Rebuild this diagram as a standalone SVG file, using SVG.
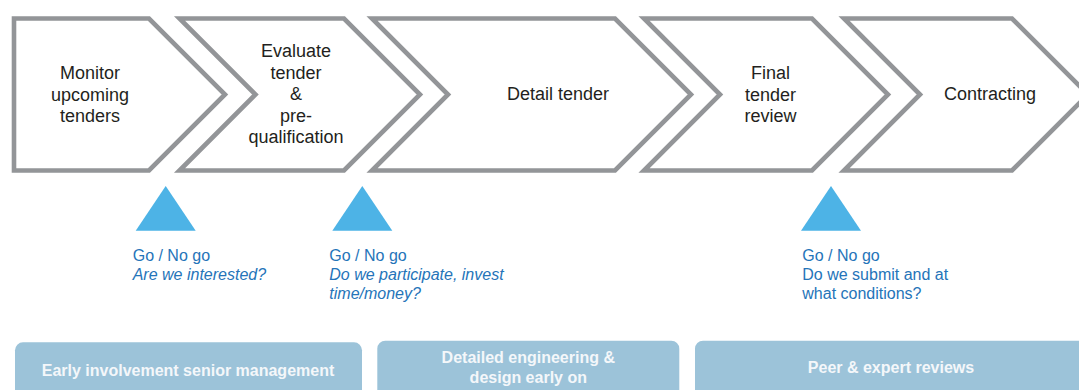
<svg xmlns="http://www.w3.org/2000/svg" width="1079" height="390" viewBox="0 0 1079 390">
<style>
.chev{fill:#ffffff;stroke:#939598;stroke-width:4.6;stroke-linejoin:miter;stroke-miterlimit:10}
.lbl{font-family:"Liberation Sans",Arial,sans-serif;font-size:18px;fill:#231f20;text-anchor:middle}
.tri{fill:#4db3e6}
.gq{font-family:"Liberation Sans",Arial,sans-serif;font-size:16px;fill:#2574b9}
.it{font-style:italic}
.box{fill:#9cc3d9}
.bt{font-family:"Liberation Sans",Arial,sans-serif;font-size:16px;font-weight:bold;fill:#f4f7fa;text-anchor:middle}
</style>
<rect width="1079" height="390" fill="#ffffff"/>
<g id="step1">
<path class="chev" d="M14,18.5 H149 L225,94.5 L149,170.5 H14 Z"/>
<text class="lbl" x="90" y="79">Monitor</text>
<text class="lbl" x="90" y="100.6">upcoming</text>
<text class="lbl" x="90" y="122.2">tenders</text>
</g>
<g id="step2">
<path class="chev" d="M179.5,18.5 H344 L420,94.5 L344,170.5 H179.5 L255.5,94.5 Z"/>
<text class="lbl" x="296" y="57">Evaluate</text>
<text class="lbl" x="296" y="78.6">tender</text>
<text class="lbl" x="296" y="100.2">&amp;</text>
<text class="lbl" x="296" y="121.8">pre-</text>
<text class="lbl" x="296" y="143.4">qualification</text>
</g>
<g id="step3">
<path class="chev" d="M372,18.5 H615 L691,94.5 L615,170.5 H372 L448,94.5 Z"/>
<text class="lbl" x="558" y="100.2">Detail tender</text>
</g>
<g id="step4">
<path class="chev" d="M644,18.5 H812 L888,94.5 L812,170.5 H644 L720,94.5 Z"/>
<text class="lbl" x="770.5" y="79">Final</text>
<text class="lbl" x="770.5" y="100.6">tender</text>
<text class="lbl" x="770.5" y="122.2">review</text>
</g>
<g id="step5">
<path class="chev" d="M844,18.5 H1012 L1088,94.5 L1012,170.5 H844 L920,94.5 Z"/>
<text class="lbl" x="990" y="100.2">Contracting</text>
</g>
<g id="gate1">
<polygon class="tri" points="165.7,186 195.7,230.7 135.7,230.7"/>
<text class="gq" x="132.7" y="260.7">Go / No go</text>
<text class="gq it" x="132.7" y="280">Are we interested?</text>
</g>
<g id="gate2">
<polygon class="tri" points="362.3,186 392.3,230.7 332.3,230.7"/>
<text class="gq" x="329.3" y="260.7">Go / No go</text>
<text class="gq it" x="329.3" y="280">Do we participate, invest</text>
<text class="gq it" x="329.3" y="299.3">time/money?</text>
</g>
<g id="gate3">
<polygon class="tri" points="831,186 861,230.7 801,230.7"/>
<text class="gq" x="802.3" y="260.7">Go / No go</text>
<text class="gq" x="802.3" y="280">Do we submit and at</text>
<text class="gq" x="802.3" y="299.3">what conditions?</text>
</g>
<g id="box1">
<rect class="box" x="15" y="342.3" width="347" height="70" rx="8"/>
<text class="bt" x="188" y="375.7">Early involvement senior management</text>
</g>
<g id="box2">
<rect class="box" x="377.3" y="340.7" width="302" height="70" rx="8"/>
<text class="bt" x="528.3" y="363.3">Detailed engineering &amp;</text>
<text class="bt" x="528.3" y="383.3">design early on</text>
</g>
<g id="box3">
<rect class="box" x="695" y="340.7" width="420" height="70" rx="8"/>
<text class="bt" x="891" y="373.3">Peer &amp; expert reviews</text>
</g>
<g id="connectors"></g>
</svg>
